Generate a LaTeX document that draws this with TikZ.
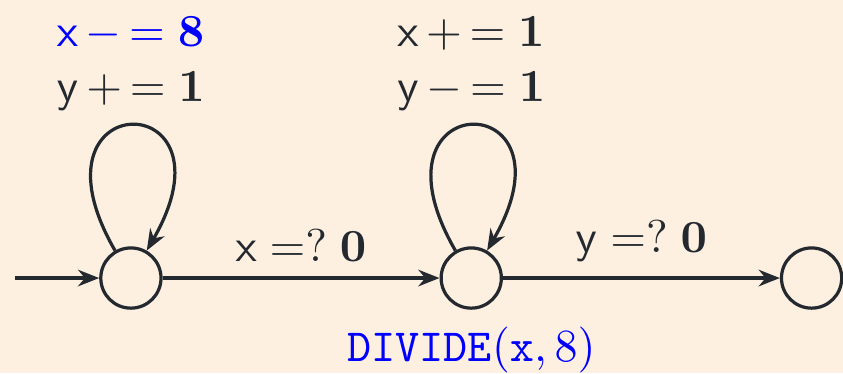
\documentclass[tikz,border=0pt]{standalone}
\usepackage{amsmath}
\usetikzlibrary{arrows.meta}
\definecolor{cream}{RGB}{253,240,225}
\definecolor{ink}{RGB}{35,41,46}

\begin{document}
\begin{tikzpicture}[color=ink,line width=0.7pt,
  >={Stealth[length=4.6pt,width=3.6pt,inset=1.5pt]},
  state/.style={circle,draw,minimum size=0.46cm,inner sep=0pt},
  upd/.style={above,align=left,inner sep=3pt}]
\path[fill=cream,use as bounding box] (-1.0,-0.726) rectangle (5.44,2.124);
\node[state] (q0) at (0,0) {};
\node[state,label={[blue]below:\texttt{DIVIDE}$(\mathtt{x},8)$}] (q1) at (2.6,0) {};
\node[state] (q2) at (5.2,0) {};
\coordinate (init) at (-0.886,0);
\draw[->] (init) -- (q0);
\draw[->] (q0) -- node[above] {$\mathsf{x}\mathrel{=?}\mathbf{0}$} (q1);
\draw[->] (q1) -- node[above] {$\mathsf{y}\mathrel{=?}\mathbf{0}$} (q2);
% self loops with their updates
\draw[->] (q0.120) .. controls +(120:1.47) and +(60:1.47) .. node[upd]
  {\textcolor{blue}{$\mathsf{x}\,{-}\,{=}\;\mathbf{8}$}\\$\mathsf{y}\,{+}\,{=}\;\mathbf{1}$} (q0.60);
\draw[->] (q1.120) .. controls +(120:1.47) and +(60:1.47) .. node[upd]
  {$\mathsf{x}\,{+}\,{=}\;\mathbf{1}$\\$\mathsf{y}\,{-}\,{=}\;\mathbf{1}$} (q1.60);
\end{tikzpicture}
\end{document}
